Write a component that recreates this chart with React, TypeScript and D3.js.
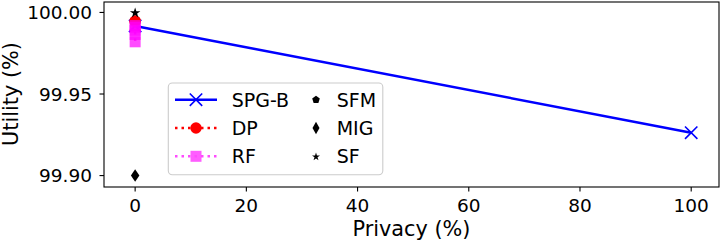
import * as d3 from "d3";

// series
const spgbX = [0, 100];
const spgbY = [99.9917, 99.9263];
const dpX = [0, 0];
const dpY = [99.9948, 99.9945];
const rfX = [0, 0, 0, 0, 0];
const rfY = [99.992, 99.991, 99.989, 99.9865, 99.982];
const sfmX = [0];
const sfmY = [99.9946];
const migX = [0];
const migY = [99.9];
const sfX = [0];
const sfY = [100.0];

const xTicks = [0, 20, 40, 60, 80, 100];
const yTicks = [99.9, 99.95, 100.0];
const legendCol1 = ["SPG-B", "DP", "RF"];
const legendCol2 = ["SFM", "MIG", "SF"];

const W = 720;
const H = 242;
const left = 104;
const right = 719;
const top = 2;
const bottom = 187;
const FONT = "DejaVu Sans, sans-serif";

function polygon(n: number, r: number, rot = -Math.PI / 2) {
  const pts = d3.range(n).map((i) => {
    const a = rot + (i * 2 * Math.PI) / n;
    return [r * Math.cos(a), r * Math.sin(a)];
  });
  return "M" + pts.map((p) => p.join(",")).join("L") + "Z";
}

function star(r: number) {
  const pts = d3.range(10).map((i) => {
    const a = -Math.PI / 2 + (i * Math.PI) / 5;
    const rr = i % 2 === 0 ? r : r * 0.38;
    return [rr * Math.cos(a), rr * Math.sin(a)];
  });
  return "M" + pts.map((p) => p.join(",")).join("L") + "Z";
}

function thinDiamond(w: number, h: number) {
  return `M0,${-h / 2}L${w / 2},0L0,${h / 2}L${-w / 2},0Z`;
}

function xMark(s: number) {
  return `M${-s},${-s}L${s},${s}M${-s},${s}L${s},${-s}`;
}

export default function App() {
  const x = d3.scaleLinear().domain([-5.6, 105]).range([left, right]);
  const y = d3.scaleLinear().domain([99.893, 100.0064]).range([bottom, top]);
  const line = d3
    .line<number>()
    .x((_, i) => x(spgbX[i]))
    .y((d) => y(d));
  const dpLine = d3
    .line<number>()
    .x((_, i) => x(dpX[i]))
    .y((d) => y(d));
  const rfLine = d3
    .line<number>()
    .x((_, i) => x(rfX[i]))
    .y((d) => y(d));

  const rowY = (i: number) => 99.7 + i * 28.3;

  return (
    <svg
      width={W}
      height={H}
      style={{ position: "absolute", left: 0, top: 0, background: "#fff" }}
      fontFamily={FONT}
    >
      {/* SFM sits underneath the DP circle */}
      {sfmY.map((v, i) => (
        <path key={"p" + i} d={polygon(5, 4.5)} transform={`translate(${x(sfmX[i])},${y(v)})`} fill="#000" />
      ))}
      {/* SPG-B */}
      <path d={line(spgbY) || ""} fill="none" stroke="#0000ff" strokeWidth={2.5} />
      {spgbY.map((v, i) => (
        <path
          key={"s" + i}
          d={xMark(6.2)}
          transform={`translate(${x(spgbX[i])},${y(v)})`}
          stroke="#0000ff"
          strokeWidth={1.6}
          fill="none"
        />
      ))}
      {/* DP */}
      <path d={dpLine(dpY) || ""} fill="none" stroke="#ff0000" strokeWidth={2.5} strokeDasharray="2.5,4" />
      {dpY.map((v, i) => (
        <circle key={"d" + i} cx={x(dpX[i])} cy={y(v)} r={5.7} fill="#ff0000" />
      ))}
      {/* RF */}
      <g opacity={0.7}>
        <path d={rfLine(rfY) || ""} fill="none" stroke="#ff00ff" strokeWidth={2.5} strokeDasharray="2.5,4" />
      </g>
      {rfY.map((v, i) => (
        <rect
          key={"r" + i}
          x={x(rfX[i]) - 5.5}
          y={y(v) - 5.5}
          width={11}
          height={11}
          fill="#ff00ff"
          fillOpacity={0.7}
        />
      ))}
      {/* MIG */}
      {migY.map((v, i) => (
        <path key={"m" + i} d={thinDiamond(8.5, 12.5)} transform={`translate(${x(migX[i])},${y(v)})`} fill="#000" />
      ))}
      {/* SF */}
      {sfY.map((v, i) => (
        <path key={"f" + i} d={star(5.5)} transform={`translate(${x(sfX[i])},${y(v) + 0.5})`} fill="#000" />
      ))}

      {/* axes frame */}
      <rect x={left} y={top} width={right - left} height={bottom - top} fill="none" stroke="#000" strokeWidth={1.1} />
      {xTicks.map((t) => (
        <g key={"xt" + t} transform={`translate(${x(t)},0)`}>
          <line y1={bottom} y2={bottom + 4.5} stroke="#000" strokeWidth={1.1} />
          <text y={211.5} textAnchor="middle" fontSize={18.5} fill="#000">
            {t}
          </text>
        </g>
      ))}
      {yTicks.map((t) => (
        <g key={"yt" + t} transform={`translate(0,${y(t)})`}>
          <line x1={left - 4.5} x2={left} stroke="#000" strokeWidth={1.1} />
          <text x={92} dy={6.7} textAnchor="end" fontSize={18.5} fill="#000">
            {t.toFixed(2)}
          </text>
        </g>
      ))}
      <text x={(left + right) / 2} y={236} textAnchor="middle" fontSize={20.8} fill="#000">
        Privacy (%)
      </text>
      <text
        transform={`translate(17.5,94) rotate(-90)`}
        textAnchor="middle"
        fontSize={20.8}
        fill="#000"
      >
        Utility (%)
      </text>

      {/* legend */}
      <rect x={168.3} y={83} width={214.5} height={91.7} rx={4} fill="#fff" fillOpacity={0.8} stroke="#cccccc" strokeWidth={1.1} />
      {legendCol1.map((name, i) => {
        const yy = rowY(i);
        return (
          <g key={name}>
            {i === 0 && (
              <>
                <line x1={175} x2={217} y1={yy} y2={yy} stroke="#0000ff" strokeWidth={2.5} />
                <path d={xMark(6.2)} transform={`translate(196,${yy})`} stroke="#0000ff" strokeWidth={1.6} fill="none" />
              </>
            )}
            {i === 1 && (
              <>
                <line x1={175} x2={217} y1={yy} y2={yy} stroke="#ff0000" strokeWidth={2.5} strokeDasharray="2.5,4" />
                <circle cx={196} cy={yy} r={5.7} fill="#ff0000" />
              </>
            )}
            {i === 2 && (
              <g opacity={0.7}>
                <line x1={175} x2={217} y1={yy} y2={yy} stroke="#ff00ff" strokeWidth={2.5} strokeDasharray="2.5,4" />
                <rect x={190.5} y={yy - 5.5} width={11} height={11} fill="#ff00ff" fillOpacity={0.9} />
              </g>
            )}
            <text x={231.7} y={yy + 6.8} fontSize={19} fill="#000">
              {name}
            </text>
          </g>
        );
      })}
      {legendCol2.map((name, i) => {
        const yy = rowY(i);
        const d = i === 0 ? polygon(5, 4) : i === 1 ? thinDiamond(7, 12.5) : star(4.2);
        return (
          <g key={name}>
            <path d={d} transform={`translate(316,${yy + (i === 2 ? 0.5 : 0)})`} fill="#000" />
            <text x={336.7} y={yy + 6.8} fontSize={19} fill="#000">
              {name}
            </text>
          </g>
        );
      })}
    </svg>
  );
}
